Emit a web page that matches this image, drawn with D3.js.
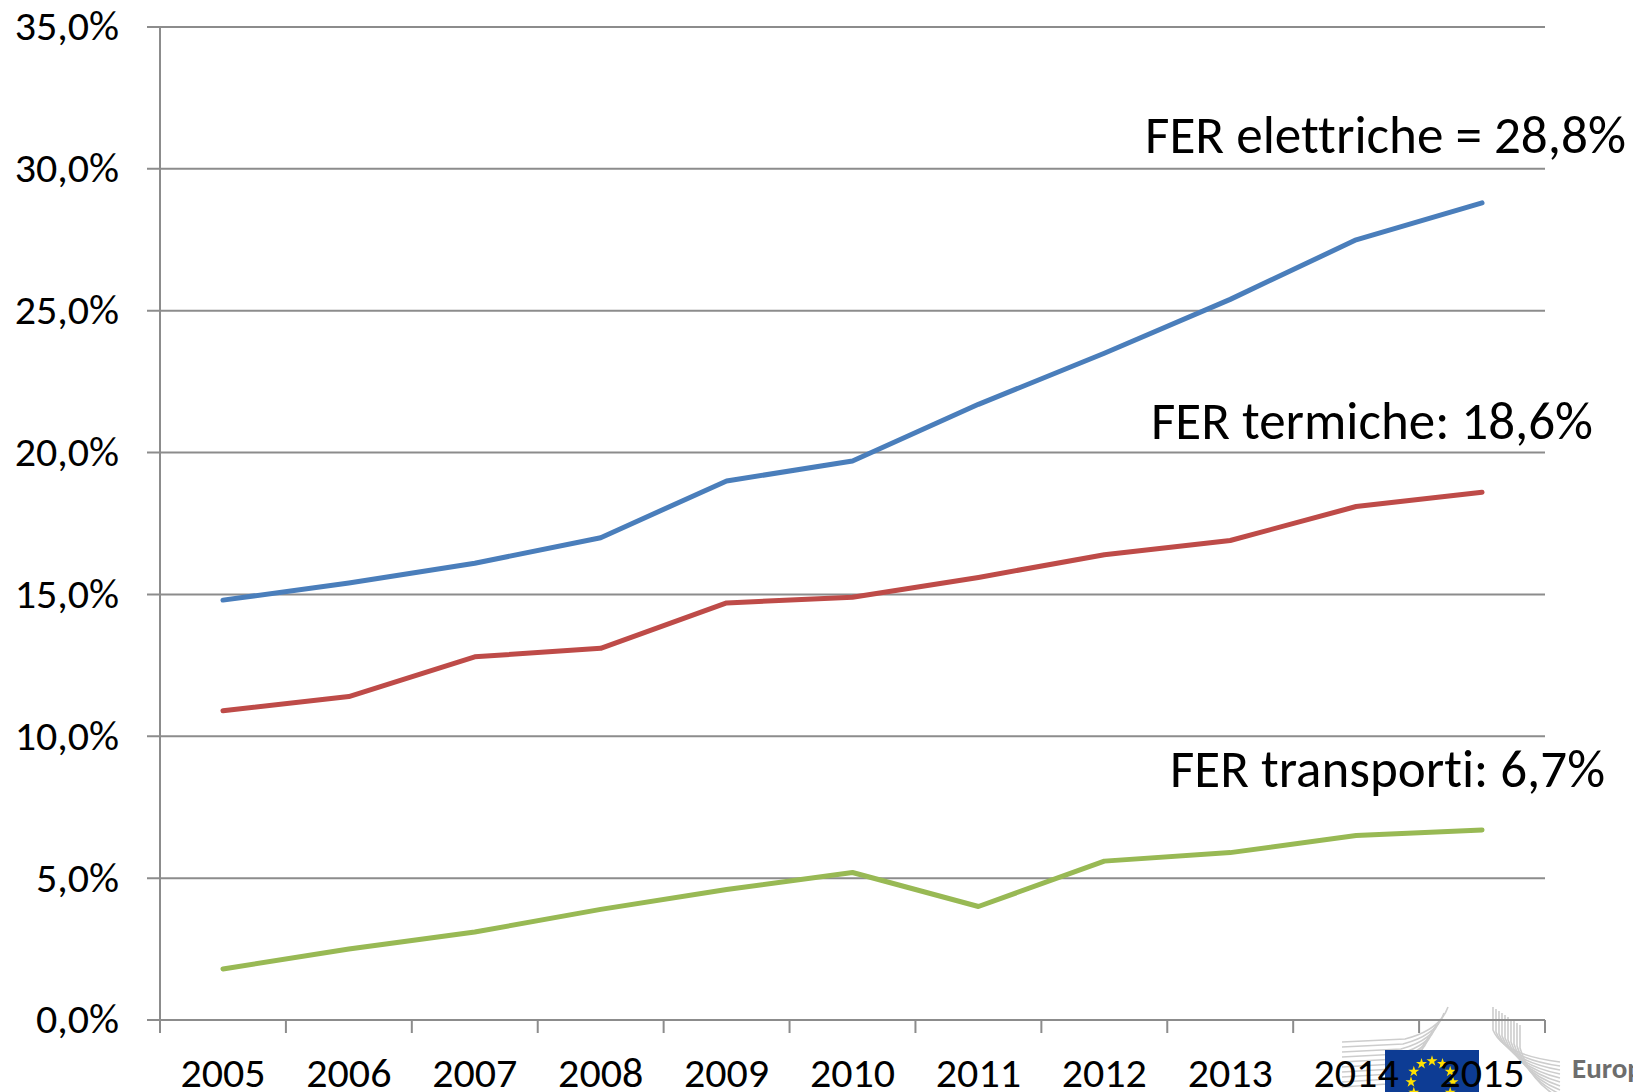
<!DOCTYPE html>
<html>
<head>
<meta charset="utf-8">
<script src="https://cdn.jsdelivr.net/npm/d3@7"></script>
<style>
  body { margin: 0; background: #fff; }
  svg text { font-family: Carlito, "Open Sans", sans-serif; fill: #000; font-variant-ligatures: none; }
</style>
</head>
<body>
<div id="chart"></div>
<script>
var years = ["2005", "2006", "2007", "2008", "2009", "2010", "2011", "2012", "2013", "2014", "2015"];
var ferElettriche = [14.8, 15.4, 16.1, 17.0, 19.0, 19.7, 21.7, 23.5, 25.4, 27.5, 28.8];
var ferTermiche = [10.9, 11.4, 12.8, 13.1, 14.7, 14.9, 15.6, 16.4, 16.9, 18.1, 18.6];
var ferTrasporti = [1.8, 2.5, 3.1, 3.9, 4.6, 5.2, 4.0, 5.6, 5.9, 6.5, 6.7];
var yTicks = [0, 5, 10, 15, 20, 25, 30, 35];
var labels = ["FER elettriche = 28,8%", "FER termiche: 18,6%", "FER transporti: 6,7%"];

var width = 1633,
    height = 1092;
var margin = {top: 27, right: 88, bottom: 72, left: 160};

var svg = d3.select("#chart").append("svg")
    .attr("width", width)
    .attr("height", height);

var x = d3.scaleBand()
    .domain(years)
    .range([margin.left, width - margin.right]);

var y = d3.scaleLinear()
    .domain([0, 35])
    .range([height - margin.bottom, margin.top]);

var fmt = function (v) {
    return d3.format(".1f")(v).replace(".", ",") + "%";
};

// logo sits behind the chart
drawLogo();

// gridlines + y labels
var grid = svg.append("g");
grid.selectAll("line")
    .data(yTicks)
    .enter().append("line")
    .attr("x1", margin.left - 13)
    .attr("x2", width - margin.right)
    .attr("y1", function (d) { return y(d); })
    .attr("y2", function (d) { return y(d); })
    .attr("stroke", "#8c8c8c")
    .attr("stroke-width", 2);

grid.selectAll("text")
    .data(yTicks)
    .enter().append("text")
    .attr("x", 119)
    .attr("y", function (d) { return y(d); })
    .attr("dy", "0.32em")
    .attr("text-anchor", "end")
    .style("font-size", "42px")
    .text(fmt);

// y axis line
svg.append("line")
    .attr("x1", margin.left).attr("x2", margin.left)
    .attr("y1", y(35)).attr("y2", y(0) + 13)
    .attr("stroke", "#8c8c8c")
    .attr("stroke-width", 2);

// x axis ticks at category boundaries
var bounds = years.map(function (d) { return x(d); }).concat([x.range()[1]]);
svg.append("g").selectAll("line")
    .data(bounds.slice(1))
    .enter().append("line")
    .attr("x1", function (d) { return d; })
    .attr("x2", function (d) { return d; })
    .attr("y1", y(0))
    .attr("y2", y(0) + 13)
    .attr("stroke", "#8c8c8c")
    .attr("stroke-width", 2);

var line = d3.line()
    .x(function (d, i) { return x(years[i]) + x.bandwidth() / 2; })
    .y(function (d) { return y(d); });

var series = [
    {values: ferElettriche, color: "#4a7ebb"},
    {values: ferTermiche, color: "#be4b48"},
    {values: ferTrasporti, color: "#98b954"}
];

series.forEach(function (s) {
    svg.append("path")
        .datum(s.values)
        .attr("d", line)
        .attr("fill", "none")
        .attr("stroke", s.color)
        .attr("stroke-width", 5)
        .attr("stroke-linecap", "round")
        .attr("stroke-linejoin", "round");
});

// x labels
svg.append("g").selectAll("text")
    .data(years)
    .enter().append("text")
    .attr("x", function (d) { return x(d) + x.bandwidth() / 2; })
    .attr("y", 1087)
    .attr("text-anchor", "middle")
    .style("font-size", "42px")
    .text(function (d) { return d; });

// annotations
var notePos = [
    {x: 1145, y: 153, w: 481},
    {x: 1151, y: 439, w: 442},
    {x: 1170, y: 787, w: 435}
];
svg.append("g").selectAll("text")
    .data(labels)
    .enter().append("text")
    .attr("x", function (d, i) { return notePos[i].x; })
    .attr("y", function (d, i) { return notePos[i].y; })
    .attr("textLength", function (d, i) { return notePos[i].w; })
    .attr("lengthAdjust", "spacingAndGlyphs")
    .style("font-size", "53px")
    .text(function (d) { return d; });

function drawLogo() {
    var g = svg.append("g");
    var gray = "#cdcdcd";
    var i, p;

    // left wing of the building
    for (i = 0; i < 10; i++) {
        p = d3.path();
        var yy = 1042 + i * 5;
        p.moveTo(1342, yy);
        p.lineTo(1405 - i * 2, yy - 3);
        p.quadraticCurveTo(1440 - i * 3, yy - 12, 1448 - i * 4, 1007 + i * 6);
        g.append("path").attr("d", p.toString())
            .attr("fill", "none").attr("stroke", gray).attr("stroke-width", 1.6);
    }
    // right wing
    for (i = 0; i < 10; i++) {
        p = d3.path();
        var xx = 1493 + i * 3;
        p.moveTo(xx, 1007 + i * 2);
        p.lineTo(xx, 1030 + i * 2);
        p.quadraticCurveTo(xx + 10, 1055 + i * 3, 1560, 1062 + i * 4);
        g.append("path").attr("d", p.toString())
            .attr("fill", "none").attr("stroke", gray).attr("stroke-width", 1.6);
    }

    // flag
    g.append("rect")
        .attr("x", 1385).attr("y", 1050)
        .attr("width", 94).attr("height", 50)
        .attr("fill", "#0d3c94");
    var star = d3.symbol().type(d3.symbolStar).size(38);
    for (i = 0; i < 12; i++) {
        var a = i * Math.PI / 6;
        g.append("path")
            .attr("d", star())
            .attr("transform", "translate(" + (1432 + 21 * Math.sin(a)) + "," + (1082 - 21 * Math.cos(a)) + ")")
            .attr("fill", "#ffe100");
    }

    g.append("text")
        .attr("x", 1572).attr("y", 1078)
        .style("font-size", "29px")
        .style("font-weight", "bold")
        .style("fill", "#6d6d6d")
        .text("Europa");
}
</script>
</body>
</html>
